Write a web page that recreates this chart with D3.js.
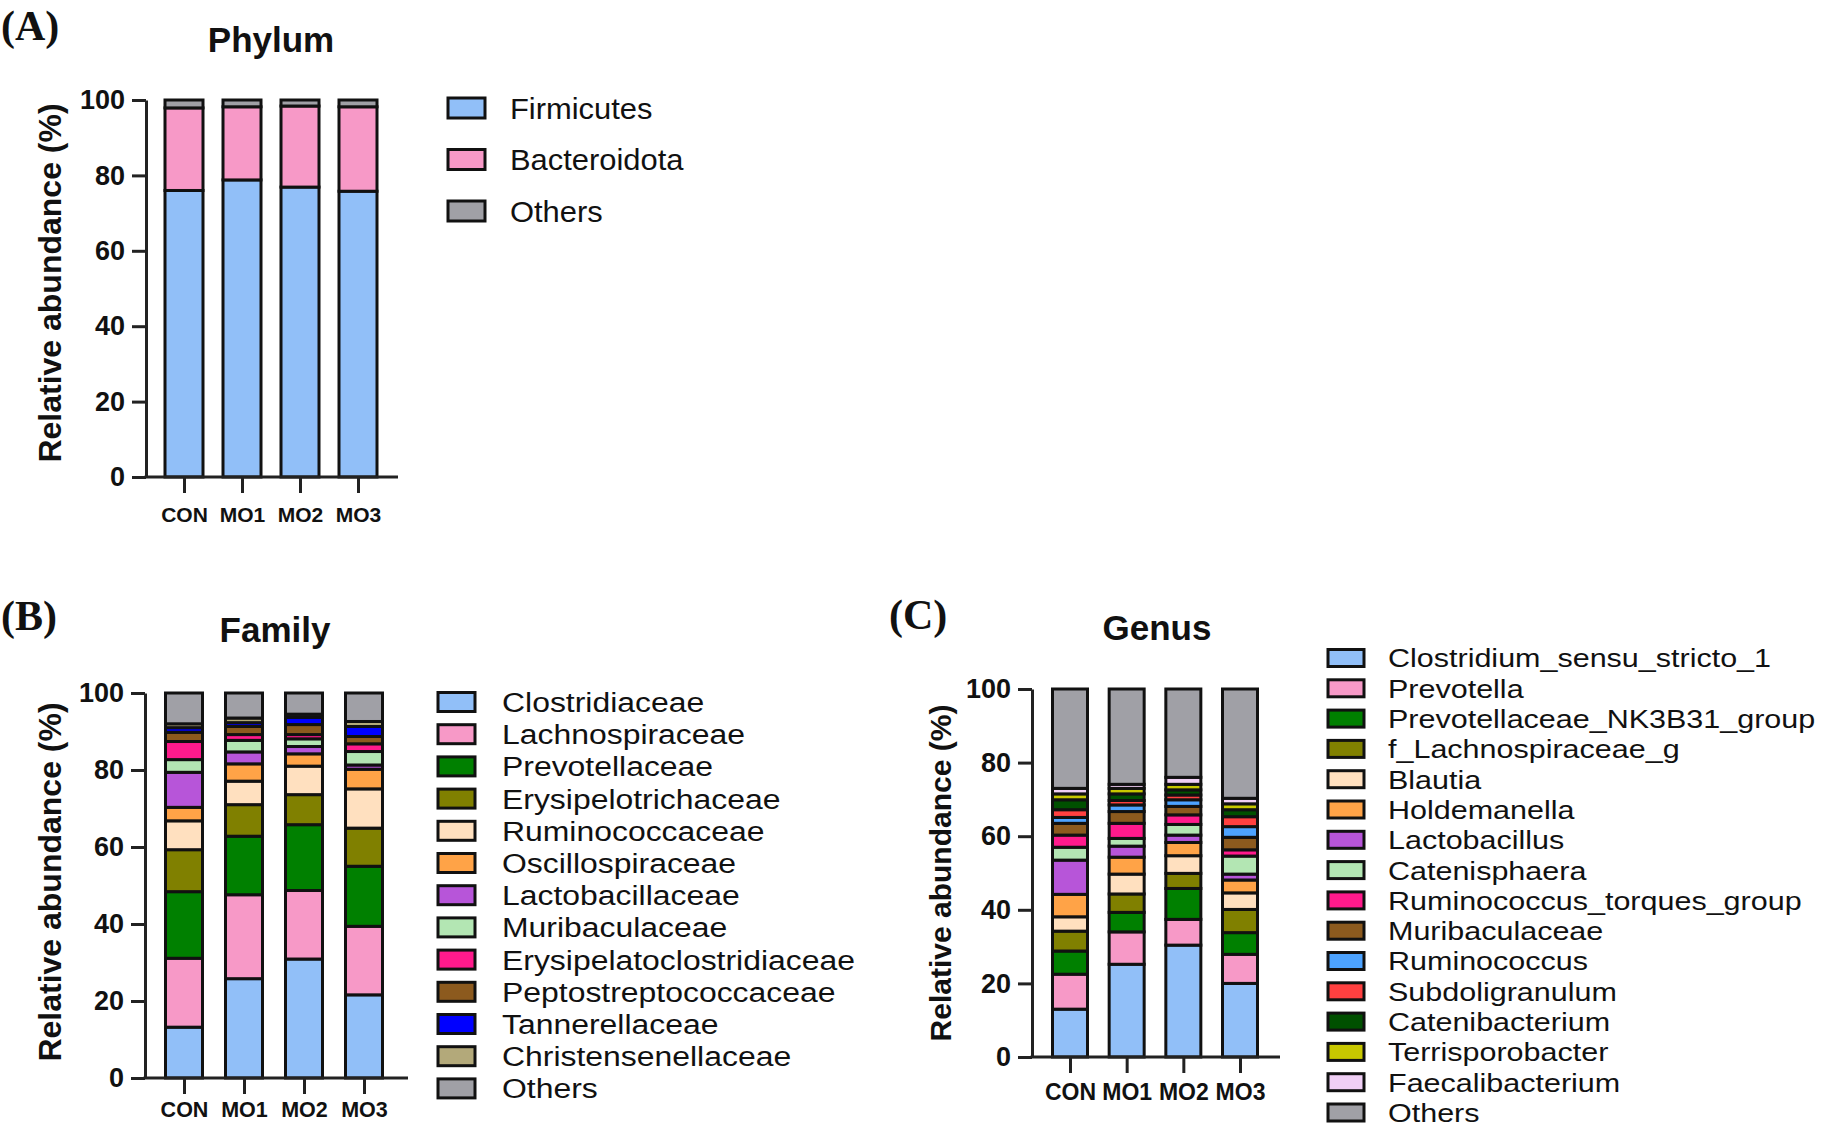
<!DOCTYPE html>
<html><head><meta charset="utf-8">
<script src="https://cdn.jsdelivr.net/npm/d3@7"></script>
<style>
body{margin:0;background:#fff}
svg{display:block}
text{font-family:"Liberation Sans",Arial,sans-serif;fill:#111}
</style>
</head><body><svg id="c" width="1823" height="1129"></svg>
<script>
// ---------- data ----------
const groups = ["CON", "MO1", "MO2", "MO3"];
const tickValues = [0, 20, 40, 60, 80, 100];

const phylumNames = ["Firmicutes", "Bacteroidota", "Others"];
const phylumColors = ["#91bff8", "#f799c7", "#a0a0a6"];
const phylumCON = [76.0, 21.9, 2.1];
const phylumMO1 = [78.8, 19.4, 1.8];
const phylumMO2 = [76.9, 21.5, 1.6];
const phylumMO3 = [75.8, 22.4, 1.8];

const familyNames = ["Clostridiaceae", "Lachnospiraceae", "Prevotellaceae", "Erysipelotrichaceae",
  "Ruminococcaceae", "Oscillospiraceae", "Lactobacillaceae", "Muribaculaceae",
  "Erysipelatoclostridiaceae", "Peptostreptococcaceae", "Tannerellaceae", "Christensenellaceae", "Others"];
const familyColors = ["#91bff8", "#f799c7", "#008000", "#808000", "#ffe0bf", "#ffa347", "#b755d9",
  "#b3e6b3", "#ff1a8c", "#8c5a1e", "#0000ff", "#b3a97a", "#a0a0a6"];
const familyCON = [13.2, 17.9, 17.3, 10.9, 7.5, 3.5, 9.1, 3.3, 4.7, 2.4, 1.2, 1.0, 8.0];
const familyMO1 = [25.8, 21.8, 15.2, 8.2, 6.1, 4.5, 3.1, 3.0, 1.5, 2.1, 1.0, 1.2, 6.5];
const familyMO2 = [30.9, 17.8, 17.1, 7.8, 7.4, 3.2, 1.9, 2.0, 1.1, 2.6, 1.9, 0.8, 5.5];
const familyMO3 = [21.6, 17.8, 15.6, 9.9, 10.2, 5.1, 1.1, 3.5, 2.0, 1.9, 2.6, 1.3, 7.4];

const genusNames = ["Clostridium_sensu_stricto_1", "Prevotella", "Prevotellaceae_NK3B31_group",
  "f_Lachnospiraceae_g", "Blautia", "Holdemanella", "Lactobacillus", "Catenisphaera",
  "Ruminococcus_torques_group", "Muribaculaceae", "Ruminococcus", "Subdoligranulum",
  "Catenibacterium", "Terrisporobacter", "Faecalibacterium", "Others"];
const genusColors = ["#91bff8", "#f799c7", "#008000", "#808000", "#ffe0bf", "#ffa347", "#b755d9",
  "#b3e6b3", "#ff1a8c", "#8c5a1e", "#4da3ff", "#ff4040", "#005000", "#c8c800", "#f0cff5", "#a0a0a6"];
const genusCON = [13.0, 9.5, 6.3, 5.4, 3.9, 6.1, 9.3, 3.5, 3.3, 3.2, 1.6, 2.1, 2.7, 1.6, 1.5, 27.0];
const genusMO1 = [25.2, 8.8, 5.3, 5.0, 5.4, 4.6, 3.0, 2.1, 4.1, 3.2, 1.8, 1.2, 1.8, 1.5, 1.1, 25.9];
const genusMO2 = [30.4, 7.0, 8.4, 4.1, 4.8, 3.6, 2.0, 2.9, 2.6, 2.3, 1.8, 1.3, 1.4, 1.5, 1.9, 24.0];
const genusMO3 = [20.0, 7.9, 5.9, 6.3, 4.5, 3.5, 1.6, 4.9, 1.7, 3.4, 2.9, 2.7, 1.9, 1.6, 1.5, 29.7];

// ---------- drawing ----------
const svg = d3.select("#c");

function panel(o) {
  const g = svg.append("g");
  const y = d3.scaleLinear().domain([0, 100]).range([o.y0, o.y100]);
  const x = d3.scalePoint().domain(groups).range(o.centers);

  const table = groups.map((grp, i) => {
    const row = {group: grp};
    o.names.forEach((n, k) => row[n] = o.data[i][k]);
    return row;
  });
  const series = d3.stack().keys(o.names)(table);
  const color = d3.scaleOrdinal().domain(o.names).range(o.colors);

  // bars
  g.selectAll("g.s").data(series).join("g").attr("class", "s")
    .attr("fill", d => color(d.key))
    .selectAll("rect").data(d => d).join("rect")
    .attr("x", d => x(d.data.group) - o.barW / 2)
    .attr("width", o.barW)
    .attr("y", d => y(d[1]))
    .attr("height", d => y(d[0]) - y(d[1]))
    .attr("stroke", "#111").attr("stroke-width", 3);

  // y axis
  const ya = g.append("g").attr("transform", `translate(${o.axisX},0)`)
    .call(d3.axisLeft(y).tickValues(tickValues).tickSize(14).tickSizeOuter(0).tickPadding(7));
  ya.selectAll("path,line").attr("stroke", "#222").attr("stroke-width", 3);
  ya.selectAll("text").style("font-size", o.tickSize + "px").style("font-weight", "bold")
    .style("font-family", '"Liberation Sans",Arial,sans-serif').attr("fill", "#111");

  // x axis
  g.append("line").attr("x1", o.axisX - 1.5).attr("x2", o.xEnd).attr("y1", o.y0).attr("y2", o.y0)
    .attr("stroke", "#222").attr("stroke-width", 3);
  const xa = g.append("g").attr("transform", `translate(0,${o.y0})`)
    .call(d3.axisBottom(x).tickSize(16).tickPadding(o.xPad));
  xa.select(".domain").remove();
  xa.selectAll("line").attr("stroke", "#222").attr("stroke-width", 3);
  xa.selectAll("text").style("font-size", o.xFont + "px").style("font-weight", "bold")
    .style("font-family", '"Liberation Sans",Arial,sans-serif').attr("fill", "#111");

  // y label
  g.append("text")
    .attr("transform", `translate(${o.ylabX},${o.ylabY}) rotate(-90)`)
    .attr("text-anchor", "middle").style("font-weight", "bold").style("font-size", o.ylabSize + "px")
    .text("Relative abundance (%)");

  // title
  g.append("text").attr("x", o.titleX).attr("y", o.titleY).attr("text-anchor", "middle")
    .style("font-weight", "bold").style("font-size", "35px").text(o.title);

  // panel letter
  g.append("text").attr("x", o.letterX).attr("y", o.letterY)
    .style("font-family", '"Liberation Serif","Times New Roman",serif')
    .style("font-weight", "bold").style("font-size", "42px").text(o.letter);

  // legend
  const L = o.legend;
  const lg = g.append("g").selectAll("g").data(o.names).join("g")
    .attr("transform", (d, i) => `translate(0,${L.y + i * L.dy})`);
  lg.append("rect").attr("x", L.x).attr("y", -L.h / 2).attr("width", L.w).attr("height", L.h)
    .attr("fill", d => color(d)).attr("stroke", "#111").attr("stroke-width", 3);
  lg.append("text").attr("transform", `translate(${L.tx},0) scale(${L.sx},1)`)
    .attr("dy", "0.36em")
    .style("font-size", L.size + "px").text(d => d);
}

panel({
  names: phylumNames, colors: phylumColors,
  data: [phylumCON, phylumMO1, phylumMO2, phylumMO3],
  y0: 477, y100: 100, centers: [184, 358], barW: 38, axisX: 146, xEnd: 398,
  tickSize: 27, xFont: 21, xPad: 14,
  ylabX: 61, ylabY: 283, ylabSize: 32,
  title: "Phylum", titleX: 271, titleY: 52,
  letter: "(A)", letterX: 1, letterY: 40,
  legend: {x: 448, y: 108, dy: 51.5, w: 37, h: 20, tx: 510, size: 30, sx: 1.03}
});

panel({
  names: familyNames, colors: familyColors,
  data: [familyCON, familyMO1, familyMO2, familyMO3],
  y0: 1078, y100: 693, centers: [184, 364], barW: 37, axisX: 145, xEnd: 408,
  tickSize: 27, xFont: 21.5, xPad: 8,
  ylabX: 61, ylabY: 882, ylabSize: 32,
  title: "Family", titleX: 275, titleY: 642,
  letter: "(B)", letterX: 1, letterY: 630,
  legend: {x: 438, y: 702, dy: 32.2, w: 37, h: 19, tx: 502, size: 28, sx: 1.14}
});

panel({
  names: genusNames, colors: genusColors,
  data: [genusCON, genusMO1, genusMO2, genusMO3],
  y0: 1057, y100: 689, centers: [1070, 1240], barW: 35, axisX: 1032, xEnd: 1280,
  tickSize: 27, xFont: 23, xPad: 11,
  ylabX: 951, ylabY: 873, ylabSize: 30,
  title: "Genus", titleX: 1157, titleY: 640,
  letter: "(C)", letterX: 889, letterY: 629,
  legend: {x: 1328, y: 658, dy: 30.3, w: 36, h: 17, tx: 1388, size: 26.3, sx: 1.16}
});
</script>
</body></html>
